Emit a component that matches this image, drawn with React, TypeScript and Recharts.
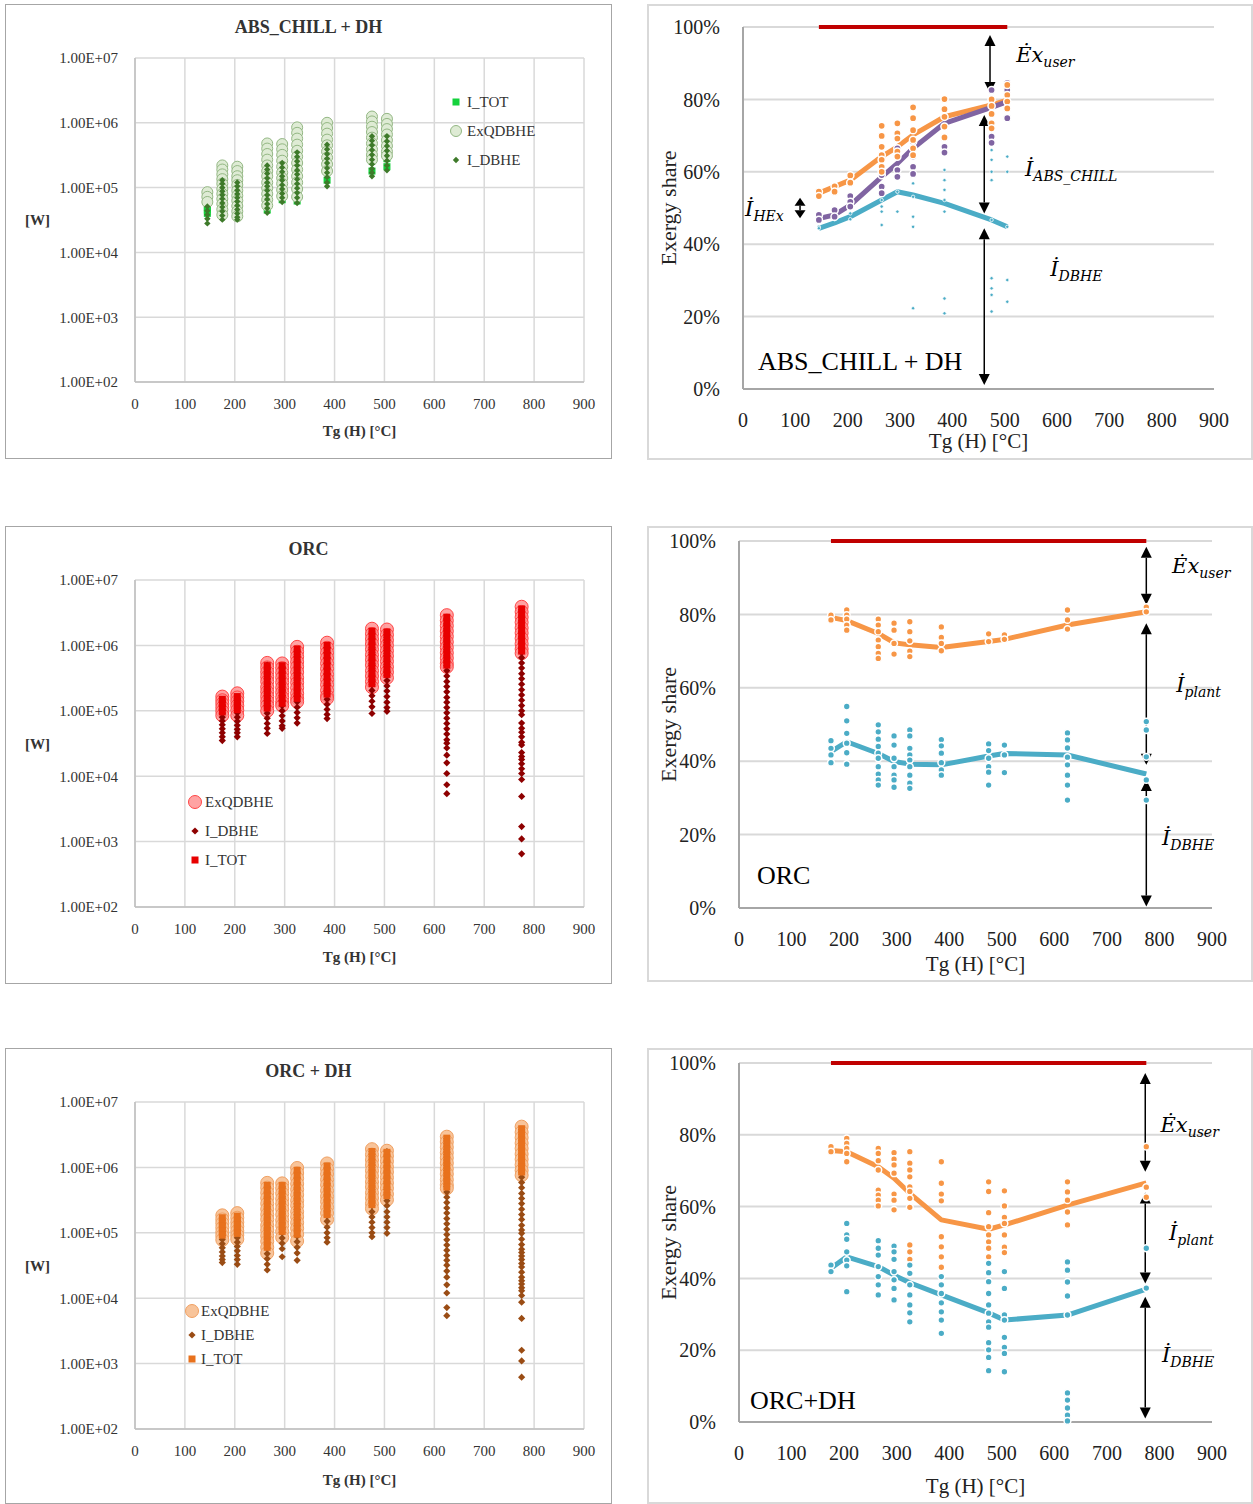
import React from 'react';
import {
  ScatterChart,
  Scatter,
  ComposedChart,
  Line,
  XAxis,
  YAxis,
  CartesianGrid,
  Legend,
  ReferenceLine,
  ReferenceDot,
} from 'recharts';

const SERIF = '"Liberation Serif", "Times New Roman", serif';
const MATH = '"DejaVu Serif", serif';

const X_TICKS = [0, 100, 200, 300, 400, 500, 600, 700, 800, 900];
const W_TICKS = [1e2, 1e3, 1e4, 1e5, 1e6, 1e7];
const PCT_TICKS = [0, 20, 40, 60, 80, 100];

// ---------------- ABS_CHILL + DH : exergy flows [W] ----------------
const ABS_TEMPS = [145, 175, 205, 265, 295, 325, 385, 475, 505];
const ABS_I_TOT = [
  [5.0e4, 4.5e4, 4.0e4],
  [1.2e5, 8.0e4, 5.5e4, 4.0e4],
  [1.1e5, 7.5e4, 5.2e4, 3.9e4],
  [2.0e5, 1.3e5, 8.5e4, 5.8e4, 4.5e4],
  [2.2e5, 1.4e5, 9.0e4, 6.5e4],
  [3.2e5, 2.0e5, 1.3e5, 8.5e4, 6.2e4],
  [4.2e5, 2.8e5, 1.9e5, 1.3e5],
  [5.8e5, 3.9e5, 2.6e5, 1.8e5],
  [5.8e5, 4.0e5, 2.8e5, 2.1e5],
];
const ABS_EXQ = [
  [8.5e4, 7.2e4, 6.0e4],
  [2.2e5, 1.9e5, 1.6e5, 1.35e5, 1.15e5, 9.5e4, 8.0e4, 6.7e4, 5.6e4, 4.6e4, 3.8e4],
  [2.1e5, 1.8e5, 1.5e5, 1.3e5, 1.1e5, 9.0e4, 7.5e4, 6.3e4, 5.2e4, 4.3e4, 3.6e4],
  [4.8e5, 4.0e5, 3.3e5, 2.7e5, 2.2e5, 1.8e5, 1.5e5, 1.2e5, 9.8e4, 8.0e4, 6.5e4, 5.3e4],
  [4.7e5, 3.9e5, 3.2e5, 2.6e5, 2.1e5, 1.7e5, 1.4e5, 1.15e5, 9.2e4, 7.4e4],
  [8.5e5, 7.0e5, 5.7e5, 4.6e5, 3.7e5, 3.0e5, 2.4e5, 1.9e5, 1.5e5, 1.2e5, 9.5e4, 7.2e4],
  [1.0e6, 8.3e5, 6.8e5, 5.5e5, 4.5e5, 3.6e5, 2.9e5, 2.3e5, 1.8e5],
  [1.25e6, 1.05e6, 8.7e5, 7.2e5, 5.9e5, 4.8e5, 3.9e5, 3.2e5, 2.7e5],
  [1.15e6, 9.6e5, 8.0e5, 6.6e5, 5.4e5, 4.4e5, 3.6e5, 3.1e5],
];
const ABS_I_DBHE = [
  [5.1e4, 4.4e4, 3.8e4, 3.3e4, 2.8e4],
  [1.3e5, 1.15e5, 1.0e5, 8.8e4, 7.7e4, 6.7e4, 5.8e4, 5.0e4, 4.3e4, 3.7e4, 3.2e4],
  [1.2e5, 1.05e5, 9.1e4, 8.0e4, 7.0e4, 6.1e4, 5.3e4, 4.6e4, 4.0e4, 3.5e4, 3.2e4],
  [2.2e5, 1.9e5, 1.65e5, 1.4e5, 1.2e5, 1.05e5, 9.0e4, 7.7e4, 6.6e4, 5.6e4, 4.8e4, 4.1e4],
  [2.4e5, 2.05e5, 1.75e5, 1.5e5, 1.3e5, 1.1e5, 9.5e4, 8.1e4, 7.0e4, 6.0e4],
  [3.5e5, 3.0e5, 2.55e5, 2.2e5, 1.85e5, 1.6e5, 1.35e5, 1.15e5, 9.8e4, 8.3e4, 7.0e4, 5.8e4],
  [4.6e5, 3.9e5, 3.3e5, 2.8e5, 2.4e5, 2.0e5, 1.7e5, 1.45e5, 1.2e5, 1.05e5],
  [6.2e5, 5.3e5, 4.5e5, 3.8e5, 3.2e5, 2.7e5, 2.3e5, 1.95e5, 1.7e5, 1.5e5],
  [6.2e5, 5.2e5, 4.4e5, 3.7e5, 3.1e5, 2.6e5, 2.2e5, 1.85e5],
];

// ---------------- ORC : exergy flows [W] ----------------
const ORC_TEMPS = [175, 205, 265, 295, 325, 385, 475, 505, 625, 775];
const ORC_EXQ = [
  [1.65e5, 1.45e5, 1.28e5, 1.12e5, 9.8e4, 8.5e4],
  [1.85e5, 1.6e5, 1.4e5, 1.2e5, 1.02e5, 8.5e4],
  [5.4e5, 4.6e5, 3.9e5, 3.3e5, 2.8e5, 2.3e5, 1.95e5, 1.65e5, 1.4e5, 1.2e5, 1.0e5],
  [5.3e5, 4.5e5, 3.8e5, 3.2e5, 2.7e5, 2.25e5, 1.9e5, 1.6e5, 1.35e5, 1.2e5],
  [9.5e5, 8.0e5, 6.7e5, 5.6e5, 4.7e5, 3.9e5, 3.2e5, 2.7e5, 2.25e5, 1.85e5, 1.55e5, 1.38e5],
  [1.1e6, 9.2e5, 7.7e5, 6.4e5, 5.3e5, 4.4e5, 3.6e5, 3.0e5, 2.5e5, 2.05e5, 1.7e5, 1.55e5],
  [1.8e6, 1.5e6, 1.25e6, 1.05e6, 8.7e5, 7.2e5, 6.0e5, 5.0e5, 4.1e5, 3.4e5, 2.8e5, 2.3e5],
  [1.75e6, 1.45e6, 1.2e6, 1.0e6, 8.3e5, 6.9e5, 5.7e5, 4.7e5, 3.9e5, 3.2e5],
  [2.9e6, 2.4e6, 2.0e6, 1.65e6, 1.37e6, 1.13e6, 9.3e5, 7.7e5, 6.4e5, 5.3e5, 4.7e5],
  [3.9e6, 3.25e6, 2.7e6, 2.25e6, 1.85e6, 1.55e6, 1.28e6, 1.06e6, 8.8e5, 7.6e5],
];
const ORC_I_DBHE = [
  [1.38e5, 1.2e5, 1.05e5, 9.2e4, 8.0e4, 7.0e4, 6.1e4, 5.3e4, 4.6e4, 4.0e4, 3.5e4],
  [1.45e5, 1.25e5, 1.08e5, 9.3e4, 8.0e4, 6.9e4, 6.0e4, 5.2e4, 4.6e4, 4.0e4],
  [5.0e5, 4.3e5, 3.6e5, 3.1e5, 2.6e5, 2.2e5, 1.85e5, 1.55e5, 1.3e5, 1.1e5, 9.2e4, 7.7e4, 6.4e4, 5.4e4, 4.5e4],
  [4.7e5, 4.0e5, 3.4e5, 2.85e5, 2.4e5, 2.0e5, 1.7e5, 1.4e5, 1.2e5, 1.0e5, 8.4e4, 7.0e4, 5.9e4, 5.4e4],
  [8.5e5, 7.2e5, 6.0e5, 5.0e5, 4.2e5, 3.5e5, 2.9e5, 2.4e5, 2.0e5, 1.65e5, 1.37e5, 1.13e5, 9.4e4, 7.8e4, 6.5e4],
  [9.3e5, 7.8e5, 6.5e5, 5.4e5, 4.5e5, 3.7e5, 3.1e5, 2.6e5, 2.15e5, 1.8e5, 1.5e5, 1.25e5, 1.05e5, 8.8e4, 7.6e4],
  [1.6e6, 1.35e6, 1.12e6, 9.3e5, 7.7e5, 6.4e5, 5.3e5, 4.4e5, 3.65e5, 3.0e5, 2.5e5, 2.05e5, 1.7e5, 1.4e5, 1.15e5, 9.1e4],
  [1.6e6, 1.33e6, 1.1e6, 9.1e5, 7.5e5, 6.2e5, 5.1e5, 4.2e5, 3.5e5, 2.9e5, 2.4e5, 2.0e5, 1.65e5, 1.35e5, 1.12e5, 9.8e4],
  [2.6e6, 2.15e6, 1.8e6, 1.5e6, 1.25e6, 1.03e6, 8.6e5, 7.1e5, 5.9e5, 4.9e5, 4.1e5, 3.4e5, 2.8e5, 2.35e5, 1.95e5, 1.6e5,
    1.35e5, 1.12e5, 9.3e4, 7.7e4, 6.4e4, 5.3e4, 4.4e4, 3.6e4, 3.2e4, 2.7e4, 2.1e4, 1.6e4, 1.1e4, 7.4e3, 5.4e3],
  [3.5e6, 2.9e6, 2.4e6, 2.0e6, 1.65e6, 1.37e6, 1.13e6, 9.4e5, 7.8e5, 6.5e5, 5.4e5, 4.5e5, 3.7e5, 3.1e5, 2.55e5, 2.1e5,
    1.75e5, 1.45e5, 1.2e5, 1.0e5, 8.7e4, 6.5e4, 5.4e4, 4.7e4, 4.0e4, 3.3e4, 3.0e4, 2.3e4, 2.0e4, 1.8e4, 1.55e4, 1.3e4,
    1.1e4, 8.9e3, 4.9e3, 1.7e3, 1.1e3, 6.5e2],
];
const ORC_I_TOT = [
  [1.5e5, 1.3e5, 1.12e5, 9.6e4],
  [1.65e5, 1.42e5, 1.22e5, 1.04e5],
  [4.9e5, 4.1e5, 3.4e5, 2.8e5, 2.3e5, 1.9e5, 1.55e5, 1.3e5, 1.1e5],
  [4.9e5, 4.1e5, 3.4e5, 2.8e5, 2.3e5, 1.9e5, 1.55e5, 1.3e5],
  [8.8e5, 7.3e5, 6.0e5, 5.0e5, 4.1e5, 3.4e5, 2.8e5, 2.3e5, 1.9e5, 1.55e5],
  [1.0e6, 8.4e5, 7.0e5, 5.8e5, 4.8e5, 4.0e5, 3.3e5, 2.7e5, 2.2e5, 1.8e5],
  [1.65e6, 1.37e6, 1.14e6, 9.5e5, 7.9e5, 6.5e5, 5.4e5, 4.5e5, 3.7e5, 3.1e5, 2.6e5],
  [1.6e6, 1.33e6, 1.1e6, 9.2e5, 7.6e5, 6.3e5, 5.2e5, 4.3e5, 3.6e5],
  [2.7e6, 2.25e6, 1.85e6, 1.55e6, 1.28e6, 1.06e6, 8.8e5, 7.3e5, 6.0e5, 5.0e5],
  [3.6e6, 3.0e6, 2.5e6, 2.05e6, 1.7e6, 1.42e6, 1.18e6, 9.8e5, 8.2e5],
];

// ---------------- ORC + DH : exergy flows [W] ----------------
const ORCDH_TEMPS = [175, 205, 265, 295, 325, 385, 475, 505, 625, 775];
const ORCDH_EXQ = [
  [1.85e5, 1.6e5, 1.4e5, 1.2e5, 1.03e5, 9.0e4, 7.8e4],
  [2.0e5, 1.7e5, 1.45e5, 1.25e5, 1.07e5, 9.2e4, 8.0e4],
  [5.8e5, 4.9e5, 4.1e5, 3.4e5, 2.8e5, 2.3e5, 1.9e5, 1.6e5, 1.3e5, 1.1e5, 9.0e4, 7.4e4, 6.0e4, 4.9e4],
  [5.7e5, 4.8e5, 4.0e5, 3.3e5, 2.75e5, 2.3e5, 1.9e5, 1.55e5, 1.3e5, 1.05e5, 8.5e4],
  [9.8e5, 8.2e5, 6.8e5, 5.6e5, 4.6e5, 3.8e5, 3.1e5, 2.6e5, 2.1e5, 1.75e5, 1.43e5, 1.17e5, 9.5e4, 7.5e4],
  [1.15e6, 9.5e5, 7.9e5, 6.5e5, 5.4e5, 4.4e5, 3.6e5, 3.0e5, 2.45e5, 2.0e5, 1.6e5],
  [1.9e6, 1.57e6, 1.3e6, 1.08e6, 8.9e5, 7.3e5, 6.0e5, 5.0e5, 4.1e5, 3.4e5, 2.8e5, 2.35e5],
  [1.8e6, 1.5e6, 1.24e6, 1.02e6, 8.5e5, 7.0e5, 5.8e5, 4.8e5, 3.9e5, 3.2e5],
  [2.95e6, 2.45e6, 2.03e6, 1.68e6, 1.4e6, 1.16e6, 9.5e5, 7.9e5, 6.5e5, 5.4e5, 4.8e5],
  [4.2e6, 3.45e6, 2.85e6, 2.35e6, 1.95e6, 1.6e6, 1.33e6, 1.1e6, 9.0e5, 7.6e5],
];
const ORCDH_I_DBHE = [
  [1.4e5, 1.2e5, 1.05e5, 9.1e4, 7.9e4, 6.8e4, 5.9e4, 5.1e4, 4.4e4, 3.9e4, 3.5e4],
  [1.55e5, 1.33e5, 1.14e5, 9.8e4, 8.4e4, 7.2e4, 6.2e4, 5.3e4, 4.5e4, 3.9e4, 3.3e4],
  [5.1e5, 4.3e5, 3.6e5, 3.0e5, 2.5e5, 2.1e5, 1.75e5, 1.45e5, 1.2e5, 1.0e5, 8.4e4, 7.0e4, 5.8e4, 4.8e4, 4.0e4, 3.3e4, 2.7e4],
  [5.1e5, 4.3e5, 3.6e5, 3.0e5, 2.5e5, 2.1e5, 1.75e5, 1.45e5, 1.2e5, 1.0e5, 8.3e4, 6.9e4, 5.7e4, 4.3e4],
  [8.5e5, 7.1e5, 5.9e5, 4.9e5, 4.1e5, 3.4e5, 2.8e5, 2.3e5, 1.9e5, 1.6e5, 1.3e5, 1.08e5, 8.9e4, 7.3e4, 6.0e4, 4.9e4, 3.8e4],
  [1.0e6, 8.3e5, 6.9e5, 5.7e5, 4.7e5, 3.9e5, 3.2e5, 2.65e5, 2.2e5, 1.8e5, 1.5e5, 1.22e5, 1.0e5, 8.4e4, 7.2e4],
  [1.75e6, 1.45e6, 1.2e6, 9.9e5, 8.2e5, 6.8e5, 5.6e5, 4.6e5, 3.8e5, 3.1e5, 2.6e5, 2.1e5, 1.75e5, 1.45e5, 1.2e5, 1.0e5, 8.7e4],
  [1.75e6, 1.45e6, 1.2e6, 9.9e5, 8.2e5, 6.8e5, 5.6e5, 4.6e5, 3.8e5, 3.1e5, 2.6e5, 2.1e5, 1.75e5, 1.45e5, 1.2e5, 9.8e4],
  [2.75e6, 2.3e6, 1.9e6, 1.57e6, 1.3e6, 1.08e6, 9.0e5, 7.4e5, 6.2e5, 5.1e5, 4.2e5, 3.5e5, 2.9e5, 2.4e5, 2.0e5, 1.65e5,
    1.37e5, 1.13e5, 9.4e4, 7.8e4, 6.5e4, 5.4e4, 4.5e4, 3.8e4, 3.2e4, 2.6e4, 2.1e4, 1.6e4, 1.2e4, 7.2e3, 5.4e3],
  [3.8e6, 3.15e6, 2.6e6, 2.15e6, 1.8e6, 1.5e6, 1.25e6, 1.03e6, 8.5e5, 7.1e5, 5.9e5, 4.9e5, 4.0e5, 3.35e5, 2.8e5, 2.3e5,
    1.9e5, 1.6e5, 1.3e5, 1.1e5, 9.8e4, 8.0e4, 6.6e4, 5.6e4, 5.0e4, 4.4e4, 3.9e4, 3.4e4, 3.0e4, 2.5e4, 2.1e4, 1.85e4,
    1.65e4, 1.45e4, 1.3e4, 1.1e4, 8.7e3, 4.9e3, 1.6e3, 1.1e3, 6.2e2],
];
const ORCDH_I_TOT = [
  [1.7e5, 1.45e5, 1.25e5, 1.07e5, 9.2e4],
  [1.8e5, 1.55e5, 1.33e5, 1.14e5, 9.8e4],
  [5.3e5, 4.4e5, 3.7e5, 3.1e5, 2.6e5, 2.15e5, 1.8e5, 1.5e5, 1.25e5, 1.05e5, 8.8e4, 7.3e4, 6.0e4],
  [5.3e5, 4.4e5, 3.7e5, 3.1e5, 2.6e5, 2.15e5, 1.8e5, 1.5e5, 1.25e5, 1.05e5],
  [9.0e5, 7.5e5, 6.2e5, 5.2e5, 4.3e5, 3.6e5, 3.0e5, 2.5e5, 2.05e5, 1.7e5, 1.4e5, 1.15e5, 9.5e4],
  [1.05e6, 8.7e5, 7.2e5, 6.0e5, 5.0e5, 4.1e5, 3.4e5, 2.8e5, 2.3e5, 1.9e5],
  [1.75e6, 1.45e6, 1.2e6, 1.0e6, 8.3e5, 6.9e5, 5.7e5, 4.7e5, 3.9e5, 3.2e5, 2.7e5],
  [1.7e6, 1.4e6, 1.16e6, 9.6e5, 8.0e5, 6.6e5, 5.5e5, 4.5e5, 3.7e5],
  [2.8e6, 2.3e6, 1.9e6, 1.58e6, 1.3e6, 1.08e6, 9.0e5, 7.4e5, 6.1e5, 5.0e5],
  [3.9e6, 3.2e6, 2.65e6, 2.2e6, 1.8e6, 1.5e6, 1.25e6, 1.03e6, 8.5e5],
];

// ---------------- exergy shares [%] ----------------
const ABS_SHARE_USER = [54.1, 55.9, 57.7, 64.2, 66.9, 70.2, 75.2, 78.5, 79.8];
const ABS_SHARE_CHILL = [47.1, 48.1, 50.8, 58.6, 62.3, 66.5, 73.4, 77.8, 79.4];
const ABS_SHARE_DBHE = [44.4, 45.9, 47.6, 52.2, 54.5, 53.6, 51.3, 46.7, 44.8];
const ABS_PTS_USER = [
  [54.5, 53.3], [56.0, 54.5], [59.0, 57.0],
  [72.7, 69.9, 66.9, 64.6, 63.3, 61.4, 60.0],
  [73.4, 70.6, 69.2, 65.6, 64.2],
  [77.8, 74.8, 71.5, 68.8, 66.5, 64.6],
  [80.1, 77.3, 75.2, 72.5, 69.5],
  [80.0, 78.2, 76.0, 73.4, 72.0],
  [84.0, 81.2, 79.4, 77.5],
];
const ABS_PTS_CHILL = [
  [48.1, 46.7], [49.4, 47.6], [53.3, 51.7, 50.4],
  [59.1, 55.9, 54.1],
  [66.5, 60.5, 58.6],
  [68.3, 64.2, 61.4, 59.4],
  [69.7, 66.9, 65.3],
  [82.6, 69.7, 68.0],
  [84.6, 82.6, 74.8],
];
const ABS_PTS_DBHE = [
  [44.8, 44.4], [46.9], [48.5, 46.9],
  [54.1, 52.2, 50.4, 49.0, 45.3],
  [54.5, 49.0],
  [56.8, 53.1, 47.6, 44.8, 22.3],
  [65.1, 60.5, 57.7, 55.0, 52.2, 49.0, 25.0, 20.9],
  [66.0, 63.3, 60.0, 57.7, 46.7, 30.6, 27.8, 26.0, 21.4],
  [64.2, 60.0, 44.8, 30.1, 24.1],
];

const ORC_SHARE_USER = [79.2, 78.3, 74.8, 72.3, 71.7, 71.0, 72.6, 73.2, 77.1, 80.7];
const ORC_SHARE_DBHE = [42.6, 45.3, 42.1, 39.9, 39.2, 39.0, 41.4, 42.1, 41.7, 36.5];
const ORC_PTS_USER = [
  [79.8, 78.5],
  [81.2, 79.8, 78.7, 77.1, 75.7],
  [78.7, 77.1, 75.3, 73.0, 71.2, 69.4, 68.0],
  [77.6, 75.7, 72.1, 69.2],
  [78.0, 75.3, 72.8, 70.0, 68.5],
  [76.6, 73.7, 72.1, 70.1],
  [74.7, 72.6],
  [74.4, 73.2],
  [81.2, 78.5, 76.0],
  [82.0, 80.7],
];
const ORC_PTS_DBHE = [
  [45.6, 43.5, 41.7, 39.6],
  [54.9, 51.0, 47.6, 44.9, 42.3, 39.2],
  [49.9, 48.0, 46.0, 44.0, 42.2, 40.8, 38.5, 36.5, 34.9, 33.5],
  [46.9, 44.4, 40.8, 38.5, 36.2, 34.9, 32.9],
  [48.5, 46.9, 43.5, 41.7, 40.3, 38.5, 36.2, 34.0, 32.6],
  [45.9, 44.2, 42.2, 39.6, 37.6, 36.2],
  [44.7, 42.9, 40.8, 38.5, 37.0, 33.5],
  [44.4, 41.7, 36.9],
  [47.7, 45.8, 43.6, 41.1, 39.0, 36.2, 33.5, 29.4],
  [50.8, 48.5, 41.2, 34.9, 29.4],
];

const ORCDH_SHARE_USER = [75.6, 75.3, 71.1, 67.9, 63.7, 56.3, 53.7, 54.9, 60.4, 66.6];
const ORCDH_SHARE_DBHE = [42.8, 46.0, 43.3, 40.9, 38.8, 35.4, 30.4, 28.4, 29.8, 37.0];
const ORCDH_PTS_USER = [
  [76.7, 75.3],
  [79.0, 77.6, 76.2, 74.8, 72.5],
  [76.2, 74.8, 72.8, 70.2, 64.6, 63.2, 61.8, 60.2],
  [75.0, 73.2, 71.6, 69.3, 63.5, 61.8, 59.1],
  [75.3, 72.1, 70.2, 68.3, 65.5, 64.2, 62.3, 59.8, 49.3, 47.4, 45.3],
  [72.5, 66.5, 63.5, 61.6, 51.6, 48.8, 46.0, 43.1],
  [66.9, 64.2, 58.3, 54.4, 52.1, 50.2, 48.4, 46.0],
  [64.4, 60.2, 57.0, 55.3, 52.1, 48.7, 47.2],
  [66.9, 64.1, 61.8, 58.5, 54.9],
  [76.7, 65.4, 62.6],
];
const ORCDH_PTS_DBHE = [
  [43.7, 41.9],
  [55.3, 52.1, 50.9, 47.4, 45.1, 43.5, 36.3],
  [50.5, 48.4, 46.5, 43.3, 40.5, 38.2, 35.4],
  [49.0, 47.4, 45.3, 41.9, 39.6, 37.2, 34.0],
  [43.7, 41.4, 38.2, 35.4, 32.6, 30.4, 27.9],
  [40.5, 38.2, 35.8, 33.2, 30.7, 28.4, 24.7],
  [44.2, 41.6, 39.1, 35.8, 32.6, 30.3, 27.9, 26.4, 22.1, 20.1, 18.0, 14.3],
  [41.9, 37.2, 29.8, 28.4, 23.6, 20.8, 19.1, 14.0],
  [44.6, 42.3, 39.0, 35.1, 29.8, 8.1, 6.1, 3.9, 1.9, 0.3],
  [48.4, 37.3],
];

// double-headed arrows (temperature, from %, to %) and their labels
const ABS_ARROWS = [
  { t: 472, from: 97.8, to: 81.8 },
  { t: 461, from: 75.7, to: 48.5 },
  { t: 461, from: 44.4, to: 1.1 },
  { t: 109, from: 52.8, to: 47.2 },
];
const ABS_NOTES = [
  { t: 522, v: 90.3, main: 'Ėx', sub: 'user' },
  { t: 539, v: 58.8, main: 'İ', sub: 'ABS_CHILL' },
  { t: 587, v: 31.2, main: 'İ', sub: 'DBHE' },
  { t: 4, v: 47.8, main: 'İ', sub: 'HEx' },
];
const ORC_ARROWS = [
  { t: 775, from: 98.4, to: 82.6 },
  { t: 775, from: 77.6, to: 39.0 },
  { t: 775, from: 34.9, to: 0.4 },
];
const ORC_NOTES = [
  { t: 824, v: 91.2, main: 'Ėx', sub: 'user' },
  { t: 832, v: 58.9, main: 'İ', sub: 'plant' },
  { t: 805, v: 17.2, main: 'İ', sub: 'DBHE' },
];
const ORCDH_ARROWS = [
  { t: 773, from: 97.2, to: 69.7 },
  { t: 773, from: 63.9, to: 38.6 },
  { t: 773, from: 34.9, to: 1.0 },
];
const ORCDH_NOTES = [
  { t: 802, v: 80.9, main: 'Ėx', sub: 'user' },
  { t: 818, v: 50.7, main: 'İ', sub: 'plant' },
  { t: 805, v: 16.8, main: 'İ', sub: 'DBHE' },
];

const ORANGE = '#f79646';
const PURPLE = '#8064a2';
const BLUE = '#4bacc6';
const RED = '#c00000';

const toPoints = (temps: number[], cols: number[][]) =>
  temps.flatMap((t, i) => cols[i].map((v) => ({ t, v })));
const toLine = (temps: number[], vals: number[]) => temps.map((t, i) => ({ t, v: vals[i] }));

const fmtSci = (v: number) => `1.00E+${String(Math.round(Math.log10(v))).padStart(2, '0')}`;

type Mark = {
  name: string;
  cols: number[][];
  shape: 'circle' | 'diamond' | 'square';
  size: number;
  fill: string;
  stroke?: string;
  opacity?: number;
};

function drawMark(m: Mark, cx: number, cy: number) {
  if (m.shape === 'circle') {
    return (
      <circle cx={cx} cy={cy} r={m.size} fill={m.fill} fillOpacity={m.opacity ?? 1} stroke={m.stroke} strokeWidth={1} />
    );
  }
  if (m.shape === 'diamond') {
    const s = m.size;
    return <polygon points={`${cx},${cy - s} ${cx + s},${cy} ${cx},${cy + s} ${cx - s},${cy}`} fill={m.fill} />;
  }
  return <rect x={cx - m.size} y={cy - m.size} width={m.size * 2} height={m.size * 2} fill={m.fill} />;
}

type LegendCfg = { x: number; y: number; gap: number; textGap: number; order: string[] };

function FlowPanel(props: {
  left: number;
  top: number;
  height: number;
  plotBottom: number;
  labelOffset: number;
  title: string;
  temps: number[];
  marks: Mark[];
  legend: LegendCfg;
}) {
  const { left, top, height, plotBottom, labelOffset, title, temps, marks, legend } = props;
  const W = 607;
  const tickStyle = { fill: '#333', fontSize: 15, fontFamily: SERIF };
  return (
    <div style={{ position: 'absolute', left, top, width: W, height }}>
      <div style={{ position: 'absolute', inset: 0, border: '1px solid #a6a6a6', boxSizing: 'border-box' }} />
      <div
        style={{
          position: 'absolute', left: 0, width: W, top: 14, textAlign: 'center',
          fontFamily: SERIF, fontSize: 18, fontWeight: 'bold', lineHeight: '18px', color: '#333',
        }}
      >
        {title}
      </div>
      <ScatterChart width={W} height={height} margin={{ top: 54, right: W - 579, left: 0, bottom: height - plotBottom - 60 }}>
        <CartesianGrid stroke="#d9d9d9" strokeWidth={1.5} />
        <XAxis
          type="number" dataKey="t" domain={[0, 900]} ticks={X_TICKS} height={60}
          tickLine={false} axisLine={{ stroke: '#bfbfbf', strokeWidth: 1.5 }} tickMargin={10} tick={tickStyle}
          label={{ value: 'Tg (H) [°C]', position: 'insideBottom', offset: labelOffset, fill: '#333', fontSize: 15, fontWeight: 'bold', fontFamily: SERIF }}
        />
        <YAxis
          type="number" dataKey="v" scale="log" domain={[1e2, 1e7]} ticks={W_TICKS} allowDataOverflow width={130}
          tickFormatter={fmtSci} tickLine={false} axisLine={{ stroke: '#bfbfbf', strokeWidth: 1.5 }} tickMargin={11} tick={tickStyle}
          label={{ value: '[W]', position: 'insideLeft', offset: 20, fill: '#333', fontSize: 15, fontWeight: 'bold', fontFamily: SERIF }}
        />
        {marks.map((m) => (
          <Scatter
            key={m.name} name={m.name} data={toPoints(temps, m.cols)} fill={m.fill}
            shape={(p: any) => drawMark(m, p.cx, p.cy)} isAnimationActive={false}
          />
        ))}
        <Legend
          layout="vertical" align="center" verticalAlign="middle"
          wrapperStyle={{ left: legend.x - 7, top: legend.y - legend.gap / 2, width: 'auto' }}
          content={() => (
            <div style={{ fontFamily: SERIF, fontSize: 15, color: '#333' }}>
              {legend.order.map((name) => {
                const m = marks.find((k) => k.name === name)!;
                return (
                  <div key={name} style={{ height: legend.gap, display: 'flex', alignItems: 'center' }}>
                    <svg width={14} height={14} style={{ overflow: 'visible' }}>{drawMark(m, 7, 7)}</svg>
                    <span style={{ marginLeft: legend.textGap }}>{name}</span>
                  </div>
                );
              })}
            </div>
          )}
        />
      </ScatterChart>
    </div>
  );
}

const arrowShape = (p: any) => {
  const x = p.x1;
  const top = Math.min(p.y1, p.y2);
  const bot = Math.max(p.y1, p.y2);
  const h = bot - top < 30 ? 8 : 11;
  const w = 5.5;
  return (
    <g>
      <line x1={x} y1={top + h} x2={x} y2={bot - h} stroke="#000" strokeWidth={1.5} />
      <polygon points={`${x},${top} ${x - w},${top + h} ${x + w},${top + h}`} fill="#000" />
      <polygon points={`${x},${bot} ${x - w},${bot - h} ${x + w},${bot - h}`} fill="#000" />
    </g>
  );
};

const noteShape = (main: string, sub: string) => (p: any) => (
  <text x={p.cx} y={p.cy} fontFamily={MATH} fontStyle="italic" fontSize={21} fill="#000">
    {main}
    <tspan fontSize={14} dy={5}>{sub}</tspan>
  </text>
);

type ShareLine = { vals: number[]; color: string };
type ShareDots = { cols: number[][]; color: string; r: number; sw: number };

function SharePanel(props: {
  left: number;
  top: number;
  height: number;
  plotLeft: number;
  plotRight: number;
  plotTop: number;
  plotBottom: number;
  xLabelY: number;
  temps: number[];
  span: number[];
  lines: ShareLine[];
  dots: ShareDots[];
  arrows: { t: number; from: number; to: number }[];
  notes: { t: number; v: number; main: string; sub: string }[];
  caption: string;
  captionX: number;
  captionY: number;
}) {
  const p = props;
  const W = 606;
  const tickStyle = { fill: '#222', fontSize: 20, fontFamily: SERIF };
  const redLine = p.span.map((t) => ({ t, v: 100 }));
  return (
    <div style={{ position: 'absolute', left: p.left, top: p.top, width: W, height: p.height }}>
      <div style={{ position: 'absolute', inset: 0, border: '2px solid #d9d9d9', boxSizing: 'border-box' }} />
      <ComposedChart
        width={W} height={p.height}
        margin={{ top: p.plotTop, right: W - p.plotRight, left: 0, bottom: p.height - p.plotBottom - 70 }}
      >
        <CartesianGrid vertical={false} stroke="#d9d9d9" strokeWidth={2} />
        <XAxis
          type="number" dataKey="t" domain={[0, 900]} ticks={X_TICKS} height={70}
          tickLine={false} axisLine={{ stroke: '#a6a6a6', strokeWidth: 2 }} tickMargin={18} tick={tickStyle}
          label={{ value: 'Tg (H) [°C]', position: 'insideBottom', offset: p.plotBottom + 70 - (p.xLabelY + 7), fill: '#222', fontSize: 21, fontFamily: SERIF }}
        />
        <YAxis
          type="number" dataKey="v" domain={[0, 100]} ticks={PCT_TICKS} width={p.plotLeft}
          tickFormatter={(v: number) => `${v}%`} tickLine={false} axisLine={{ stroke: '#a6a6a6', strokeWidth: 2 }}
          tickMargin={17} tick={tickStyle}
          label={{ value: 'Exergy share', angle: -90, position: 'insideLeft', offset: 21, fill: '#222', fontSize: 22, fontFamily: SERIF, style: { textAnchor: 'middle' } }}
        />
        <Line data={redLine} dataKey="v" stroke={RED} strokeWidth={4} dot={false} isAnimationActive={false} />
        {p.lines.map((l, i) => (
          <Line
            key={`l${i}`} data={toLine(p.temps, l.vals)} dataKey="v" stroke={l.color} strokeWidth={5}
            strokeLinejoin="round" dot={false} isAnimationActive={false}
          />
        ))}
        {p.dots.map((d, i) => (
          <Scatter
            key={`d${i}`} data={toPoints(p.temps, d.cols)} fill={d.color}
            shape={(s: any) => <circle cx={s.cx} cy={s.cy} r={d.r} fill={d.color} stroke="#fff" strokeWidth={d.sw} />}
            isAnimationActive={false}
          />
        ))}
        {p.arrows.map((a, i) => (
          <ReferenceLine key={`a${i}`} segment={[{ x: a.t, y: a.from }, { x: a.t, y: a.to }]} shape={arrowShape} />
        ))}
        {p.notes.map((n, i) => (
          <ReferenceDot key={`n${i}`} x={n.t} y={n.v} r={0} shape={noteShape(n.main, n.sub)} />
        ))}
      </ComposedChart>
      <div
        style={{
          position: 'absolute', left: p.captionX, top: p.captionY, fontFamily: SERIF, fontSize: 26,
          lineHeight: '26px', color: '#000', whiteSpace: 'nowrap',
        }}
      >
        {p.caption}
      </div>
    </div>
  );
}

export default function App() {
  const absMarks: Mark[] = [
    { name: 'I_TOT', cols: ABS_I_TOT, shape: 'square', size: 3.5, fill: '#14d23c' },
    { name: 'ExQDBHE', cols: ABS_EXQ, shape: 'circle', size: 5.5, fill: '#deebd4', stroke: '#93b783' },
    { name: 'I_DBHE', cols: ABS_I_DBHE, shape: 'diamond', size: 3.2, fill: '#3e7a2a' },
  ];
  const orcMarks: Mark[] = [
    { name: 'ExQDBHE', cols: ORC_EXQ, shape: 'circle', size: 6.5, fill: '#ff8c8c', stroke: '#ff4545', opacity: 0.8 },
    { name: 'I_DBHE', cols: ORC_I_DBHE, shape: 'diamond', size: 3.6, fill: '#8e0000' },
    { name: 'I_TOT', cols: ORC_I_TOT, shape: 'square', size: 3.5, fill: '#e80000' },
  ];
  const orcDhMarks: Mark[] = [
    { name: 'ExQDBHE', cols: ORCDH_EXQ, shape: 'circle', size: 6.5, fill: '#f8c49a', stroke: '#f0a062' },
    { name: 'I_DBHE', cols: ORCDH_I_DBHE, shape: 'diamond', size: 3.6, fill: '#9a4c14' },
    { name: 'I_TOT', cols: ORCDH_I_TOT, shape: 'square', size: 3.5, fill: '#e8711c' },
  ];

  return (
    <div style={{ position: 'absolute', left: 0, top: 0, width: 1253, height: 1504, background: '#fff' }}>
      <FlowPanel
        left={5} top={4} height={455} plotBottom={378} labelOffset={6} title="ABS_CHILL + DH"
        temps={ABS_TEMPS} marks={absMarks}
        legend={{ x: 451, y: 98, gap: 29, textGap: 4, order: ['I_TOT', 'ExQDBHE', 'I_DBHE'] }}
      />
      <FlowPanel
        left={5} top={526} height={458} plotBottom={381} labelOffset={5} title="ORC"
        temps={ORC_TEMPS} marks={orcMarks}
        legend={{ x: 190, y: 276, gap: 29, textGap: 3, order: ['ExQDBHE', 'I_DBHE', 'I_TOT'] }}
      />
      <FlowPanel
        left={5} top={1048} height={456} plotBottom={381} labelOffset={4} title="ORC + DH"
        temps={ORCDH_TEMPS} marks={orcDhMarks}
        legend={{ x: 187, y: 263, gap: 24, textGap: 2, order: ['ExQDBHE', 'I_DBHE', 'I_TOT'] }}
      />

      <SharePanel
        left={647} top={4} height={456} plotLeft={96} plotRight={567} plotTop={23} plotBottom={385} xLabelY={437}
        temps={ABS_TEMPS} span={[145, 505]}
        lines={[
          { vals: ABS_SHARE_USER, color: ORANGE },
          { vals: ABS_SHARE_CHILL, color: PURPLE },
          { vals: ABS_SHARE_DBHE, color: BLUE },
        ]}
        dots={[
          { cols: ABS_PTS_DBHE, color: BLUE, r: 1.7, sw: 0.8 },
          { cols: ABS_PTS_CHILL, color: PURPLE, r: 3.6, sw: 1.5 },
          { cols: ABS_PTS_USER, color: ORANGE, r: 3.6, sw: 1.5 },
        ]}
        arrows={ABS_ARROWS} notes={ABS_NOTES}
        caption="ABS_CHILL + DH" captionX={111} captionY={345}
      />
      <SharePanel
        left={647} top={526} height={456} plotLeft={92} plotRight={565} plotTop={15} plotBottom={382} xLabelY={438}
        temps={ORC_TEMPS} span={[175, 775]}
        lines={[
          { vals: ORC_SHARE_USER, color: ORANGE },
          { vals: ORC_SHARE_DBHE, color: BLUE },
        ]}
        dots={[
          { cols: ORC_PTS_USER, color: ORANGE, r: 3.4, sw: 1.5 },
          { cols: ORC_PTS_DBHE, color: BLUE, r: 3.4, sw: 1.5 },
        ]}
        arrows={ORC_ARROWS} notes={ORC_NOTES}
        caption="ORC" captionX={110} captionY={337}
      />
      <SharePanel
        left={647} top={1048} height={456} plotLeft={92} plotRight={565} plotTop={15} plotBottom={374} xLabelY={438}
        temps={ORCDH_TEMPS} span={[175, 775]}
        lines={[
          { vals: ORCDH_SHARE_USER, color: ORANGE },
          { vals: ORCDH_SHARE_DBHE, color: BLUE },
        ]}
        dots={[
          { cols: ORCDH_PTS_USER, color: ORANGE, r: 3.4, sw: 1.5 },
          { cols: ORCDH_PTS_DBHE, color: BLUE, r: 3.4, sw: 1.5 },
        ]}
        arrows={ORCDH_ARROWS} notes={ORCDH_NOTES}
        caption="ORC+DH" captionX={103} captionY={340}
      />
    </div>
  );
}
